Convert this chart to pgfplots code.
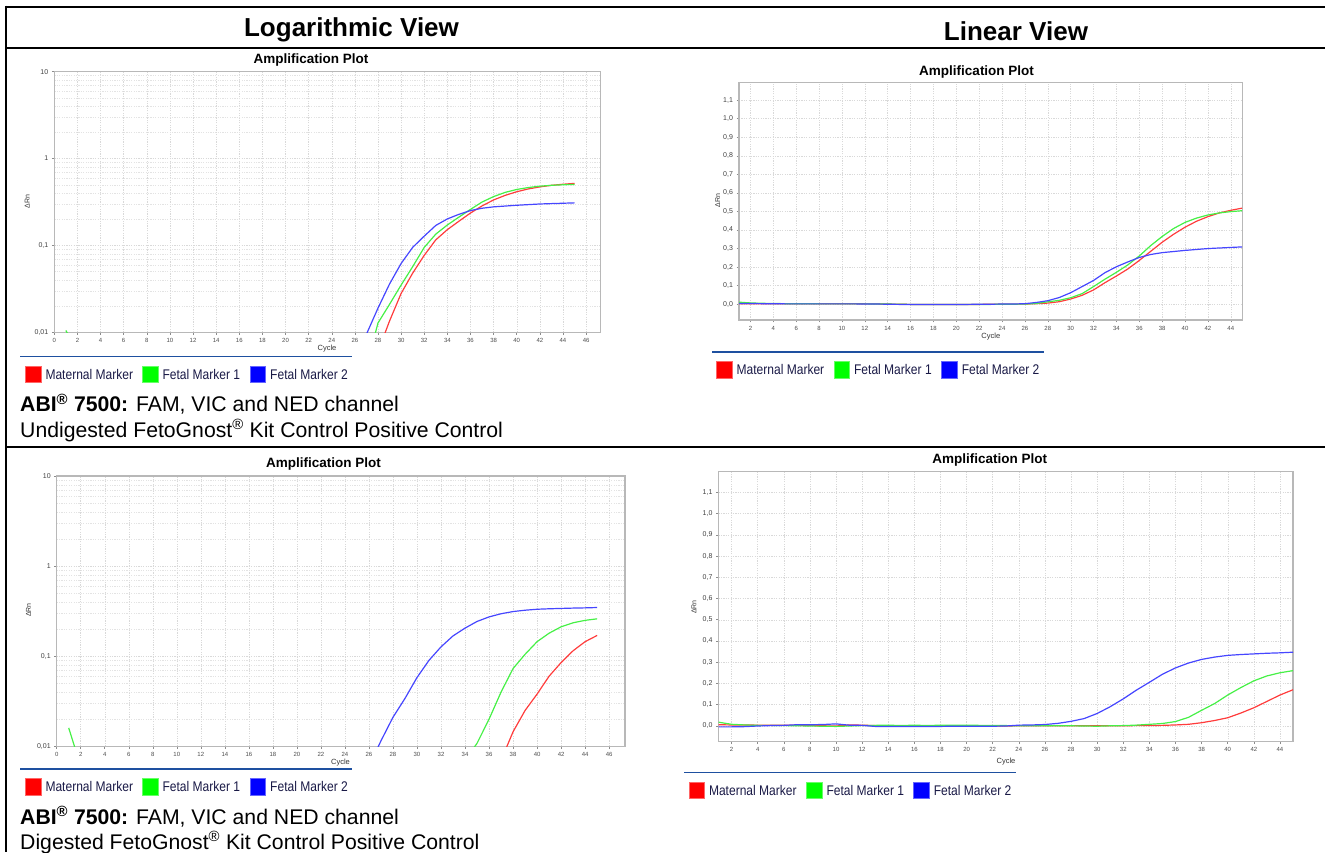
\documentclass[border=0pt]{standalone}
\usepackage{fontspec}
\setmainfont{Liberation Sans}
\usepackage{graphicx}
\usepackage{pgfplots}
\pgfplotsset{compat=1.18}

\definecolor{cR}{RGB}{255,60,60}
\definecolor{cG}{RGB}{70,240,70}
\definecolor{cB}{RGB}{70,70,255}
\definecolor{sqR}{RGB}{255,0,0}
\definecolor{sqG}{RGB}{0,255,0}
\definecolor{sqB}{RGB}{0,0,255}
\definecolor{legline}{RGB}{30,80,160}
\definecolor{legtext}{RGB}{25,25,70}

\newcommand\legtxt[1]{\scalebox{0.86}[1]{\fontsize{14}{16}\selectfont #1}}

\pgfplotsset{
  amp/.style={
    scale only axis, anchor=south west,
    axis line style={draw=black!28, line width=1.2pt},
    tick align=outside, tick pos=left,
    major tick length=2.5pt, minor tick length=0pt,
    tick style={black!45, line width=0.5pt},
    grid=both,
    major grid style={black!15, dash pattern=on 1.2pt off 1.2pt, line width=0.45pt},
    minor grid style={black!11, dash pattern=on 1.2pt off 1.2pt, line width=0.4pt},
    xticklabel style={font=\fontsize{6}{7}\selectfont, text=black!70},
    yticklabel style={font=\fontsize{7}{8}\selectfont, text=black!75},
    every axis plot/.append style={line width=1.2pt, no marks},
  },
  logamp/.style={amp, ymin=0.01, ymax=10, xmin=0,
    xtick={0,2,...,46}, ytick={0.01,0.1,1,10},
    yticklabels={{0,01},{0,1},{1},{10}}},
  linamp/.style={amp, xmin=1, xmax=45, xtick={2,4,...,44},
    ytick={0,0.1,0.2,0.3,0.4,0.5,0.6,0.7,0.8,0.9,1.0,1.1},
    yticklabels={{0,0},{0,1},{0,2},{0,3},{0,4},{0,5},{0,6},{0,7},{0,8},{0,9},{1,0},{1,1}}},
}

\begin{document}
\begin{tikzpicture}[x=1pt,y=1pt]
\path[use as bounding box] (0,0) rectangle (1325,852);

% table lines
\draw[line width=2pt] (5.3,845.3) -- (1325,845.3);
\draw[line width=2pt] (6.3,846.3) -- (6.3,0);
\draw[line width=2pt] (5.3,804.3) -- (1325,804.3);
\draw[line width=2pt] (5.3,404.7) -- (1325,404.7);

% headers
\node[anchor=base, inner sep=0, font=\fontsize{26}{30}\selectfont\bfseries] at (351.5,815.3) {Logarithmic View};
\node[anchor=base, inner sep=0, font=\fontsize{26}{30}\selectfont\bfseries] at (1016,811.3) {Linear View};

% ================= Top-left: log, undigested
\begin{semilogyaxis}[logamp, /pgf/number format/assume math mode=true, at={(54.3pt,519.7pt)}, width=546pt, height=260.6pt, xmax=47.23]
\addplot[cG] coordinates {(1,0.0105)(2,0.006)};
\addplot[cR] coordinates {(28,0.006)(29,0.0135)(30,0.028)(31,0.048)(32,0.077)(33,0.116)(34,0.152)(35,0.19)(36,0.236)(37,0.285)(38,0.334)(39,0.377)(40,0.415)(41,0.447)(42,0.472)(43,0.492)(44,0.506)(45,0.518)};
\addplot[cG] coordinates {(27,0.004)(28,0.0128)(29,0.021)(30,0.035)(31,0.057)(32,0.095)(33,0.135)(34,0.172)(35,0.212)(36,0.26)(37,0.316)(38,0.365)(39,0.408)(40,0.441)(41,0.464)(42,0.481)(43,0.492)(44,0.499)(45,0.504)};
\addplot[cB] coordinates {(26,0.003)(27,0.0095)(28,0.019)(29,0.036)(30,0.062)(31,0.095)(32,0.128)(33,0.17)(34,0.202)(35,0.228)(36,0.252)(37,0.268)(38,0.278)(39,0.284)(40,0.29)(41,0.295)(42,0.3)(43,0.303)(44,0.306)(45,0.309)};
\end{semilogyaxis}

% ================= Top-right: linear, undigested
\begin{axis}[linamp, /pgf/number format/assume math mode=true, at={(739pt,532pt)}, width=503.2pt, height=237.7pt, ymin=-0.085, ymax=1.196]
\addplot[cR] coordinates {(1,0.003)(2,0.003)(3,0.003)(4,0.003)(5,0.003)(6,0.003)(7,0.003)(8,0.003)(9,0.003)(10,0.003)(11,0.003)(12,0.002)(13,0.002)(14,0.001)(15,0.0)(16,-0.001)(17,-0.001)(18,-0.001)(19,-0.001)(20,-0.001)(21,-0.001)(22,-0.001)(23,0.0)(24,0.0)(25,0.0)(26,0.001)(27,0.003)(28,0.006)(29,0.0135)(30,0.028)(31,0.048)(32,0.077)(33,0.116)(34,0.152)(35,0.19)(36,0.236)(37,0.285)(38,0.334)(39,0.377)(40,0.415)(41,0.447)(42,0.472)(43,0.492)(44,0.506)(45,0.518)};
\addplot[cG] coordinates {(1,0.011)(2,0.007)(3,0.005)(4,0.004)(5,0.003)(6,0.003)(7,0.003)(8,0.002)(9,0.002)(10,0.002)(11,0.002)(12,0.002)(13,0.001)(14,0.001)(15,0.0)(16,-0.001)(17,-0.001)(18,-0.002)(19,-0.002)(20,-0.002)(21,-0.002)(22,-0.002)(23,-0.001)(24,0.0)(25,0.0)(26,0.001)(27,0.004)(28,0.0128)(29,0.021)(30,0.035)(31,0.057)(32,0.095)(33,0.135)(34,0.172)(35,0.212)(36,0.26)(37,0.316)(38,0.365)(39,0.408)(40,0.441)(41,0.464)(42,0.481)(43,0.492)(44,0.499)(45,0.504)};
\addplot[cB] coordinates {(1,0.004)(2,0.004)(3,0.003)(4,0.003)(5,0.002)(6,0.002)(7,0.002)(8,0.002)(9,0.002)(10,0.002)(11,0.002)(12,0.001)(13,0.001)(14,0.0)(15,-0.001)(16,-0.002)(17,-0.002)(18,-0.001)(19,-0.001)(20,-0.001)(21,-0.001)(22,0.0)(23,0.0)(24,0.001)(25,0.001)(26,0.003)(27,0.0095)(28,0.019)(29,0.036)(30,0.062)(31,0.095)(32,0.128)(33,0.17)(34,0.202)(35,0.228)(36,0.252)(37,0.268)(38,0.278)(39,0.284)(40,0.29)(41,0.295)(42,0.3)(43,0.303)(44,0.306)(45,0.309)};
\end{axis}

% ================= Bottom-left: log, digested
\begin{semilogyaxis}[logamp, /pgf/number format/assume math mode=true, at={(56.7pt,105.7pt)}, width=568.3pt, height=270.3pt, xmax=47.32]
\addplot[cG] coordinates {(1,0.016)(2,0.006)};
\addplot[cR] coordinates {(37,0.007)(38,0.0145)(39,0.025)(40,0.038)(41,0.06)(42,0.085)(43,0.115)(44,0.145)(45,0.17)};
\addplot[cG] coordinates {(34,0.007)(35,0.0108)(36,0.02)(37,0.04)(38,0.073)(39,0.105)(40,0.145)(41,0.18)(42,0.212)(43,0.235)(44,0.25)(45,0.26)};
\addplot[cB] coordinates {(26,0.006)(27,0.0115)(28,0.021)(29,0.034)(30,0.058)(31,0.09)(32,0.127)(33,0.168)(34,0.205)(35,0.243)(36,0.273)(37,0.296)(38,0.313)(39,0.324)(40,0.332)(41,0.336)(42,0.339)(43,0.342)(44,0.344)(45,0.347)};
\end{semilogyaxis}

% ================= Bottom-right: linear, digested
\begin{axis}[linamp, /pgf/number format/assume math mode=true, at={(718.5pt,110.3pt)}, width=574.5pt, height=270pt, ymin=-0.075, ymax=1.198]
\addplot[cR] coordinates {(1,0.005)(2,0.004)(3,0.004)(4,0.003)(5,0.003)(6,0.003)(7,0.002)(8,0.001)(9,0.0)(10,-0.001)(11,0.004)(12,0.003)(13,0.001)(14,-0.002)(15,-0.002)(16,-0.002)(17,-0.002)(18,-0.002)(19,-0.001)(20,-0.001)(21,-0.001)(22,-0.001)(23,-0.001)(24,0.0)(25,0.0)(26,0.0)(27,0.0)(28,0.0)(29,0.0)(30,0.0)(31,0.0)(32,0.0)(33,0.001)(34,0.001)(35,0.002)(36,0.004)(37,0.007)(38,0.0145)(39,0.025)(40,0.038)(41,0.06)(42,0.085)(43,0.115)(44,0.145)(45,0.17)};
\addplot[cG] coordinates {(1,0.017)(2,0.007)(3,0.004)(4,0.002)(5,0.002)(6,0.001)(7,0.0)(8,-0.001)(9,-0.002)(10,-0.003)(11,-0.001)(12,0.001)(13,0.002)(14,0.003)(15,0.001)(16,0.003)(17,0.001)(18,0.003)(19,0.003)(20,0.003)(21,0.002)(22,0.001)(23,0.001)(24,0.0)(25,0.0)(26,0.0)(27,0.0)(28,0.0)(29,-0.001)(30,-0.002)(31,0.0)(32,0.001)(33,0.003)(34,0.007)(35,0.0108)(36,0.02)(37,0.04)(38,0.073)(39,0.105)(40,0.145)(41,0.18)(42,0.212)(43,0.235)(44,0.25)(45,0.26)};
\addplot[cB] coordinates {(1,-0.005)(2,-0.005)(3,-0.004)(4,-0.001)(5,0.001)(6,0.002)(7,0.005)(8,0.005)(9,0.006)(10,0.009)(11,0.003)(12,0.002)(13,-0.003)(14,-0.003)(15,-0.003)(16,-0.003)(17,-0.003)(18,-0.003)(19,-0.002)(20,-0.002)(21,-0.002)(22,-0.002)(23,-0.001)(24,0.003)(25,0.004)(26,0.006)(27,0.0115)(28,0.021)(29,0.034)(30,0.058)(31,0.09)(32,0.127)(33,0.168)(34,0.205)(35,0.243)(36,0.273)(37,0.296)(38,0.313)(39,0.324)(40,0.332)(41,0.336)(42,0.339)(43,0.342)(44,0.344)(45,0.347)};
\end{axis}

% titles
\foreach \x/\y in {311/791.6, 976.6/780, 323.4/388, 989.7/392}
  \node[inner sep=0, font=\fontsize{13.5}{15}\selectfont\bfseries] at (\x,\y) {Amplification Plot};
% Cycle labels
\foreach \x/\y in {327/503.3, 990.8/515.3, 340.5/89, 1006/90.5}
  \node[inner sep=0, font=\fontsize{7.5}{8}\selectfont, text=black!80] at (\x,\y) {Cycle};
% Delta Rn labels
\foreach \x/\y in {27.3/650.3, 717.8/651.2, 28.4/242, 694/245}
  \node[inner sep=0, rotate=90, font=\fontsize{7}{8}\selectfont, text=black!80] at (\x,\y) {ΔRn};

% legends
\foreach \lx/\ly/\rx/\gx/\bx in {20.2/495.7/25.3/142.3/250, 712.2/500/716.4/833.9/941.6, 20.2/83/25.3/142.3/250, 684.2/79.7/688.8/806.3/913.6}{
  \draw[legline, line width=1.5pt] (\lx,\ly) -- ++(331.5,0);
  \fill[sqR, draw=sqR!60] (\rx,\ly-9.5) rectangle ++(15.5,-16.5);
  \fill[sqG, draw=sqG!60] (\gx,\ly-9.5) rectangle ++(15.5,-16.5);
  \fill[sqB, draw=sqB!60] (\bx,\ly-9.5) rectangle ++(15.5,-16.5);
  \node[anchor=west, inner sep=0, text=legtext] at (\rx+20,\ly-17.8) {\legtxt{Maternal Marker}};
  \node[anchor=west, inner sep=0, text=legtext] at (\gx+20,\ly-17.8) {\legtxt{Fetal Marker 1}};
  \node[anchor=west, inner sep=0, text=legtext] at (\bx+20,\ly-17.8) {\legtxt{Fetal Marker 2}};
}

% captions
\node[anchor=base west, inner sep=0, font=\fontsize{21.2}{24}\selectfont] at (20,440) {\textbf{ABI\textsuperscript{®} 7500:} FAM, VIC and NED channel};
\node[anchor=base west, inner sep=0, font=\fontsize{21.2}{24}\selectfont] at (20,414.5) {Undigested FetoGnost\textsuperscript{®} Kit Control Positive Control};
\node[anchor=base west, inner sep=0, font=\fontsize{21.2}{24}\selectfont] at (20,27.5) {\textbf{ABI\textsuperscript{®} 7500:} FAM, VIC and NED channel};
\node[anchor=base west, inner sep=0, font=\fontsize{21.2}{24}\selectfont] at (20,2.5) {Digested FetoGnost\textsuperscript{®} Kit Control Positive Control};
\end{tikzpicture}
\end{document}
